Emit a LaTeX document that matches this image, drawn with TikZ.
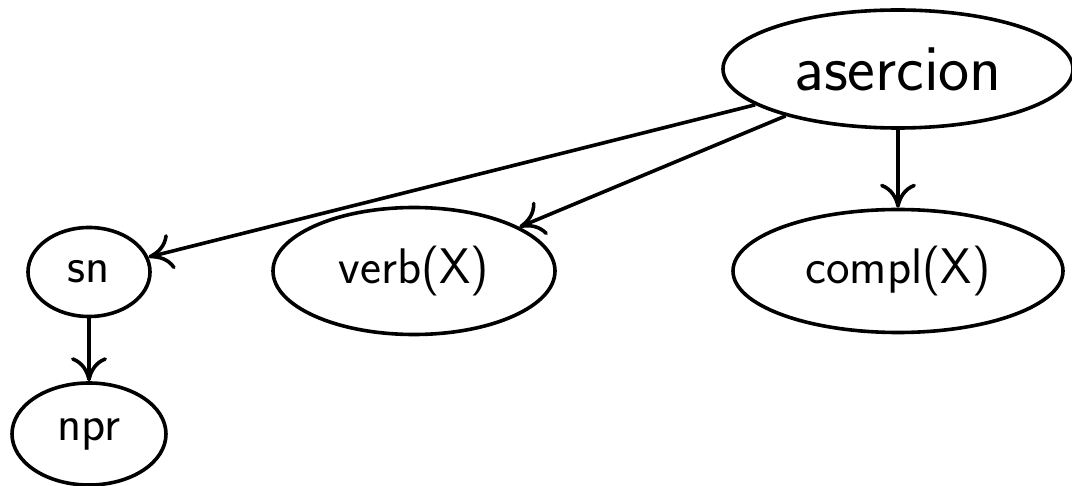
\documentclass[tikz,border=0pt]{standalone}
\usepackage{tikz}
\usetikzlibrary{shapes.geometric, arrows.meta}

\begin{document}
\begin{tikzpicture}[x=0.5pt, y=-0.5pt, line width=1.8pt,
    goal/.style={draw, ellipse, inner sep=0pt, font=\sffamily\fontsize{25}{30}\selectfont},
    edge/.style={-{Computer Modern Rightarrow[length=12pt, width=18pt]}}]
  \useasboundingbox (0, 0) rectangle (1072, 486);

  % Root
  \node[goal, minimum width=175pt, minimum height=59pt,
        font=\sffamily\fontsize{33}{39}\selectfont] (aser) at (898, 69) {asercion};

  % Children
  \node[goal, minimum width=61pt, minimum height=44.5pt] (sn) at (89, 272) {sn};
  \node[goal, minimum width=141pt, minimum height=63.5pt] (verb) at (414, 271) {verb(X)};
  \node[goal, minimum width=165pt, minimum height=61.5pt] (compl) at (898, 271) {compl(X)};

  % Leaf
  \node[goal, minimum width=77pt, minimum height=51pt] (npr) at (89, 434) {npr};

  % Edges
  \draw[edge] (aser) -- (sn);
  \draw[edge] (aser) -- (verb);
  \draw[edge] (aser) -- (compl);
  \draw[edge] (sn) -- (npr);
\end{tikzpicture}
\end{document}
